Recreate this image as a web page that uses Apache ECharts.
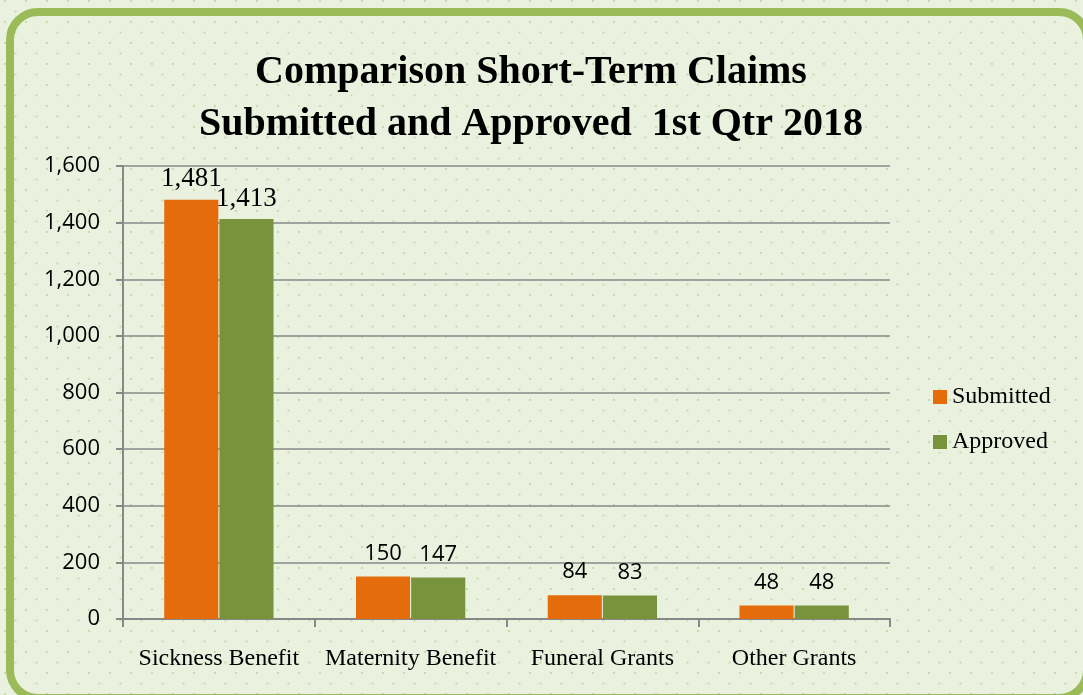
<!DOCTYPE html>
<html lang="en">
<head>
    <meta charset="UTF-8">
    <title>Short-Term Claims</title>
    <script src="https://cdn.jsdelivr.net/npm/echarts@6/dist/echarts.min.js"></script>
    <style>
        body, html {
            margin: 0;
            width: 100%;
            height: 100%;
        }
        #chart {
            width: 1083px;
            height: 695px;
        }
    </style>
</head>
<body>
<div id="chart"></div>
<script>
    // data
    let categories = ["Sickness Benefit", "Maternity Benefit", "Funeral Grants", "Other Grants"];
    let submitted = [1481, 150, 84, 48];
    let approved = [1413, 147, 83, 48];

    // dotted background tile
    function dotPattern() {
        let c = document.createElement("canvas");
        c.width = 21;
        c.height = 21;
        let ctx = c.getContext("2d");
        ctx.fillStyle = "#eaf1de";
        ctx.fillRect(0, 0, 21, 21);
        ctx.fillStyle = "#c6d9a4";
        [[5, 1], [15.5, 11.5]].forEach(function (p) {
            ctx.beginPath();
            ctx.arc(p[0], p[1], 1.1, 0, Math.PI * 2);
            ctx.fill();
        });
        return c;
    }

    const serif = "'Liberation Serif', 'DejaVu Serif', serif";
    const sans = "'Open Sans', 'Noto Sans', sans-serif";

    // first category uses the big serif labels like the original
    function labels(values) {
        return values.map(function (v, i) {
            let item = {value: v};
            if (i === 0) {
                item.label = {fontFamily: serif, fontSize: 27, distance: 7};
            }
            return item;
        });
    }

    let barLabel = {
        show: true,
        position: "top",
        distance: 12,
        fontFamily: sans,
        fontSize: 22,
        color: "#000",
        formatter: function (p) {
            return p.value.toLocaleString("en-US");
        }
    };

    let chart = echarts.init(document.getElementById("chart"));

    let options = {
        backgroundColor: {image: dotPattern(), repeat: "repeat"},
        animation: false,
        title: {
            text: "Comparison Short-Term Claims\nSubmitted and Approved  1st Qtr 2018",
            left: 526,
            textAlign: "center",
            top: 42,
            textStyle: {
                fontFamily: serif,
                fontWeight: "bold",
                fontSize: 40,
                lineHeight: 52,
                color: "#000"
            }
        },
        legend: {
            orient: "vertical",
            left: 928,
            top: 380,
            itemWidth: 14,
            itemHeight: 14,
            itemGap: 21,
            icon: "rect",
            textStyle: {fontFamily: serif, fontSize: 24, color: "#000"},
            data: ["Submitted", "Approved"]
        },
        grid: {
            left: 123,
            right: 193,
            top: 166,
            bottom: 76,
            containLabel: false
        },
        xAxis: {
            type: "category",
            data: categories,
            axisLine: {lineStyle: {color: "#888", width: 2}},
            axisTick: {show: true, length: 8, lineStyle: {color: "#888", width: 2}},
            axisLabel: {interval: 0, fontFamily: serif, fontSize: 24, color: "#000", margin: 28}
        },
        yAxis: {
            type: "value",
            min: 0,
            max: 1600,
            interval: 200,
            axisLine: {show: true, lineStyle: {color: "#888", width: 2}},
            axisTick: {show: true, length: 7, lineStyle: {color: "#888", width: 2}},
            splitLine: {lineStyle: {color: "#888", width: 1.5}},
            axisLabel: {
                fontFamily: sans,
                fontSize: 22,
                color: "#000",
                margin: 23,
                formatter: function (v) {
                    return v.toLocaleString("en-US");
                }
            }
        },
        series: [
            {
                name: "Submitted",
                type: "bar",
                data: labels(submitted),
                itemStyle: {color: "#e46c0a"},
                barGap: "2%",
                barCategoryGap: "43%",
                label: barLabel
            },
            {
                name: "Approved",
                type: "bar",
                data: labels(approved),
                itemStyle: {color: "#77933c"},
                label: barLabel
            }
        ],
        graphic: [{
            type: "rect",
            shape: {x: 10, y: 12, width: 1077, height: 686, r: 28},
            style: {fill: "none", stroke: "#9bbb59", lineWidth: 8},
            silent: true
        }]
    };

    chart.setOption(options);
</script>
</body>
</html>
